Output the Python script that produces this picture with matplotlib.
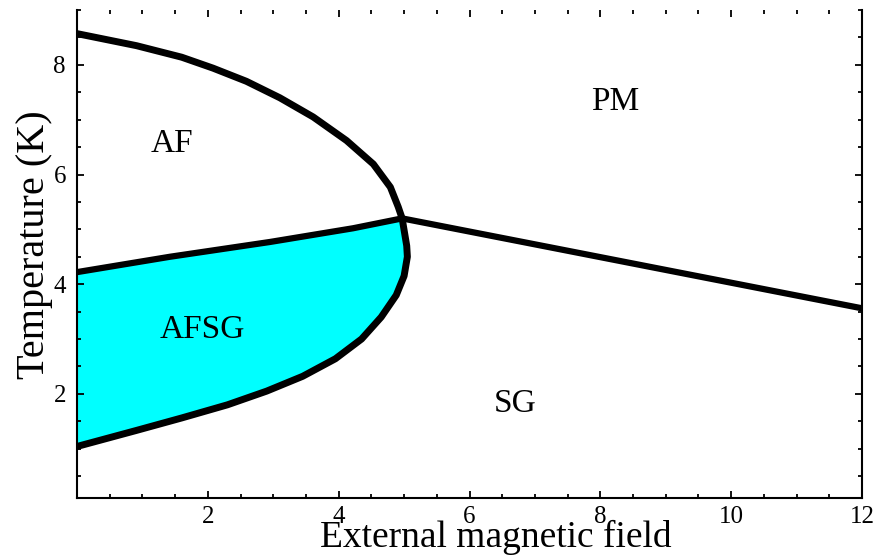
import matplotlib
matplotlib.use("Agg")
import matplotlib.pyplot as plt
from matplotlib.ticker import MultipleLocator

plt.rcParams['font.family'] = ['Liberation Serif', 'DejaVu Serif']

# outer AF / AFSG boundary, read from the top (h=0, T=8.57) round to the bottom (h=0, T=1.04)
outer_h = [0.00, 0.91, 1.60, 2.08, 2.59, 3.10, 3.61, 4.12, 4.53, 4.79, 4.91, 4.97,
           5.04, 5.05, 5.00, 4.88, 4.65, 4.35, 3.95, 3.45, 2.90, 2.30, 1.60, 0.90, 0.00]
outer_T = [8.57, 8.35, 8.14, 7.94, 7.70, 7.40, 7.05, 6.62, 6.19, 5.77, 5.41, 5.20,
           4.70, 4.50, 4.15, 3.80, 3.40, 3.00, 2.64, 2.32, 2.05, 1.80, 1.56, 1.33, 1.04]

# AF / AFSG line
mid_h = [0.00, 1.42, 2.95, 4.22, 4.97]
mid_T = [4.22, 4.50, 4.77, 5.02, 5.20]

# SG / PM line
right_h = [4.97, 12.0]
right_T = [5.20, 3.56]

labels = ['AF', 'AFSG', 'PM', 'SG']
label_h = [1.45, 1.91, 8.23, 6.70]
label_T = [6.56, 3.16, 7.33, 1.82]

fig = plt.figure(figsize=(8.79, 5.58), dpi=100)
ax = fig.add_axes([0.0876, 0.1075, 0.8931, 0.8745])

# cyan AFSG pocket: mid line, then the lower part of the outer curve, then the T axis
fill_h = mid_h + [h for h, t in zip(outer_h, outer_T) if t < 5.2]
fill_T = mid_T + [t for t in outer_T if t < 5.2]
ax.fill(fill_h, fill_T, color='#00FFFF', lw=0, zorder=1)

ax.plot(outer_h, outer_T, color='black', lw=5, solid_capstyle='butt',
        solid_joinstyle='round', zorder=3)
ax.plot(mid_h, mid_T, color='black', lw=4.5, solid_capstyle='round',
        solid_joinstyle='round', zorder=3)
ax.plot(right_h, right_T, color='black', lw=4.5, solid_capstyle='butt', zorder=3)

for s, h, t in zip(labels, label_h, label_T):
    ax.text(h, t, s, fontsize=24, ha='center', va='center', zorder=4)

ax.set_xlim(0, 12)
ax.set_ylim(0.1, 9.0)
ax.xaxis.set_minor_locator(MultipleLocator(0.5))
ax.yaxis.set_minor_locator(MultipleLocator(0.5))
ax.set_xticks([2, 4, 6, 8, 10, 12])
ax.set_yticks([2, 4, 6, 8])

ax.tick_params(which='both', direction='in', top=True, right=True, width=1.3)
ax.tick_params(which='major', length=5, labelsize=18, pad=8)
ax.tick_params(axis='x', which='major', pad=6)
ax.tick_params(which='minor', length=3)
ax.spines['top'].set_visible(False)
for side in ['left', 'right', 'bottom']:
    ax.spines[side].set_linewidth(1.5)

ax.set_xlabel('External magnetic field', fontsize=27, labelpad=-6)
ax.xaxis.label.set_x(0.534)
ax.set_ylabel('Temperature (K)', fontsize=29, labelpad=0)
ax.yaxis.label.set_y(0.52)

fig.savefig('out.png', dpi=100)
